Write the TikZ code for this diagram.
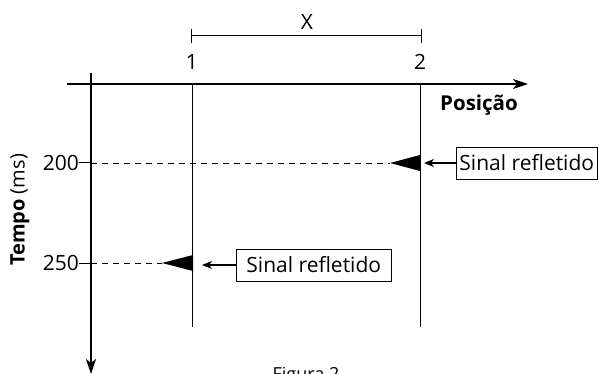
\documentclass[tikz,border=0pt]{standalone}
\usepackage{fontspec}
\setmainfont{Open Sans}
\usetikzlibrary{arrows.meta}
\begin{document}
\begin{tikzpicture}[x=1pt,y=-1pt,
  axis/.style={line width=1.4pt,-{Stealth[length=15pt,width=10pt,inset=4pt]}},
  posline/.style={line width=1pt},
  lbl/.style={font=\fontsize{21}{24}\selectfont,inner sep=0pt},
  sigbox/.style={draw,line width=0.9pt,font=\fontsize{21}{24}\selectfont,inner ysep=0pt,minimum height=32pt,anchor=west},
  pointer/.style={line width=1.1pt,-{Stealth[length=10pt,width=8pt,inset=3pt]}},
  wave/.style={fill=black},
  dashline/.style={line width=0.8pt,dash pattern=on 6pt off 5pt},
  tick/.style={line width=1pt}
]
\useasboundingbox (0,0) rectangle (599,374);
% axes
\coordinate (hs) at (67,84);
\coordinate (he) at (528,84);
\coordinate (vs) at (91,73);
\coordinate (ve) at (91,374);
\draw[axis] (hs) -- (he);
\draw[axis] (vs) -- (ve);
% position lines
\coordinate (p1t) at (192.5,84);
\coordinate (p1b) at (192.5,327);
\coordinate (p2t) at (420,84);
\coordinate (p2b) at (420,327);
\draw[posline] (p1t) -- (p1b);
\draw[posline] (p2t) -- (p2b);
% dimension X
\coordinate (d1) at (191,36);
\coordinate (d2) at (421,36);
\draw[tick] (d1) -- (d2);
\draw[tick] ([yshift=-7pt]d1) -- ([yshift=7pt]d1);
\draw[tick] ([yshift=-7pt]d2) -- ([yshift=7pt]d2);
\node[lbl] (xl) at (307,22) {X};
\node[lbl] (n1) at (192,62) {1};
\node[lbl] (n2) at (420,62) {2};
\node[lbl,font=\fontsize{20.5}{24}\selectfont\bfseries] (posl) at (479,105) {Posição};
% time labels
\node[lbl,anchor=east] (t200) at (79,163) {200};
\node[lbl,anchor=east] (t250) at (79,263) {250};
\node[lbl,rotate=90,font=\fontsize{20}{23}\selectfont] (tempo) at (20,210) {\textbf{Tempo} (ms)};
\draw[tick] (t200.east) -- (91,163) coordinate (a200);
\draw[tick] (t250.east) -- (91,263) coordinate (a250);
% waves
\coordinate (w1) at (390,163);
\coordinate (w2) at (162,263);
\draw[dashline] (a200) -- (w1);
\draw[dashline] (a250) -- (w2);
\fill[wave] (w1) -- (420,155) -- (420,171) -- cycle;
\fill[wave] (w2) -- (193,255) -- (193,271) -- cycle;
% boxes
\node[sigbox,inner xsep=3pt] (b1) at (456,163) {Sinal refletido};
\node[sigbox,inner xsep=10pt] (b2) at (236,265) {Sinal refletido};
\coordinate (r1) at (424,163);
\coordinate (r2) at (202,265);
\draw[pointer] (b1.west) -- (r1);
\draw[pointer] (b2.west) -- (r2);
% caption
\node[font=\fontsize{18}{21}\selectfont,inner sep=0pt,anchor=base] (cap) at (306,380) {Figura 2};
\end{tikzpicture}
\end{document}
